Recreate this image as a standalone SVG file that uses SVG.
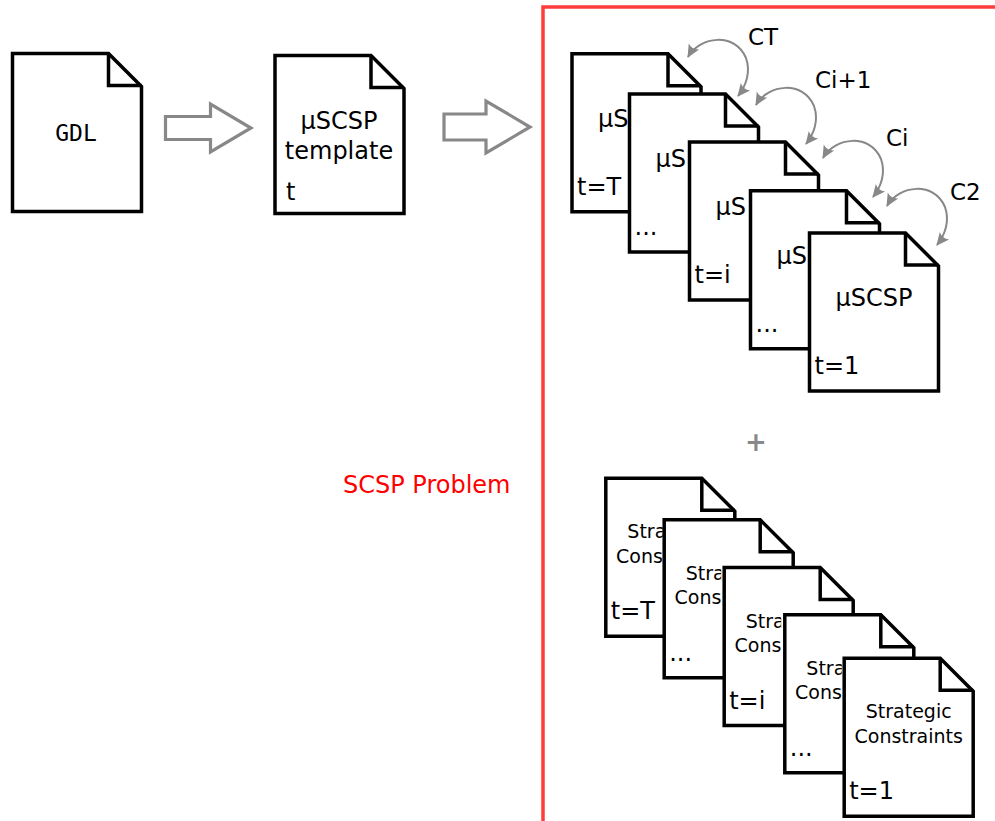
<svg xmlns="http://www.w3.org/2000/svg" xmlns:xlink="http://www.w3.org/1999/xlink" width="995" height="821" viewBox="0 0 995 821">
<style>
.doc{fill:#fff;stroke:#000;stroke-width:3.5;stroke-linejoin:miter}
.fold{fill:none;stroke:#000;stroke-width:3.5}
.t{font-family:"DejaVu Sans","Liberation Sans",sans-serif;font-size:24px;fill:#000}
.mid{text-anchor:middle}
.sc{font-family:"DejaVu Sans","Liberation Sans",sans-serif;font-size:19px;fill:#000;text-anchor:middle}
.mono{font-family:"DejaVu Sans Mono","Liberation Mono",monospace;font-size:23px;fill:#000;text-anchor:middle}
.big{fill:none;stroke:#888;stroke-width:3.2}
.arc{fill:none;stroke:#888;stroke-width:2;marker-start:url(#ah);marker-end:url(#ah)}
.lbl{font-family:"DejaVu Sans","Liberation Sans",sans-serif;font-size:23px;fill:#000}
</style>
<defs>
<g id="page">
<path class="doc" d="M0,0 H96 L129,33 V158 H0 Z"/>
<path class="fold" d="M96,0 V32 H129"/>
</g>
<clipPath id="vis"><rect x="0" y="0" width="57" height="158"/></clipPath>
<marker id="ah" viewBox="-13 -7 15 14" markerWidth="15" markerHeight="14" refX="0" refY="0" orient="auto-start-reverse" markerUnits="userSpaceOnUse">
<path d="M1,0 L-12,-6 Q-8,0 -12,6 Z" fill="#888"/>
</marker>
</defs>
<rect x="543" y="7" width="470" height="840" fill="none" stroke="#ff3c3c" stroke-width="3.5"/>
<text x="343" y="493" class="t" style="fill:#f00">SCSP Problem</text>

<g id="gdl" transform="translate(12.5,53.5)">
<use href="#page"/>
<text x="63.5" y="87" class="mono">GDL</text>
</g>
<g id="template" transform="translate(275,55.5)">
<use href="#page"/>
<text x="64" y="73" class="t mid">μSCSP</text>
<text x="64" y="103" class="t mid">template</text>
<text x="11" y="144" class="t">t</text>
</g>

<g id="mu-T" transform="translate(572,53.8)">
<use href="#page"/>
<g clip-path="url(#vis)"><text x="64.5" y="73" class="t mid">μSCSP</text></g>
<text x="5" y="141" class="t">t=T</text>
</g>
<g id="mu-dots1" transform="translate(629.5,94)">
<use href="#page"/>
<g clip-path="url(#vis)"><text x="64.5" y="73" class="t mid">μSCSP</text></g>
<text x="5" y="141" class="t">...</text>
</g>
<g id="mu-i" transform="translate(689.5,142)">
<use href="#page"/>
<g clip-path="url(#vis)"><text x="64.5" y="73" class="t mid">μSCSP</text></g>
<text x="5" y="141" class="t">t=i</text>
</g>
<g id="mu-dots2" transform="translate(750.5,190.8)">
<use href="#page"/>
<g clip-path="url(#vis)"><text x="64.5" y="73" class="t mid">μSCSP</text></g>
<text x="5" y="141" class="t">...</text>
</g>
<g id="mu-1" transform="translate(809.5,233)">
<use href="#page"/>
<text x="64.5" y="73" class="t mid">μSCSP</text>
<text x="5" y="141" class="t">t=1</text>
</g>

<text x="756" y="451" class="t mid" style="fill:#888;font-weight:bold;font-size:26px">+</text>

<g id="sc-T" transform="translate(605.8,478.2)">
<use href="#page"/>
<g clip-path="url(#vis)">
<text x="64.5" y="60" class="sc">Strategic</text>
<text x="64.5" y="84.5" class="sc">Constraints</text>
</g>
<text x="5" y="141" class="t">t=T</text>
</g>
<g id="sc-dots1" transform="translate(664.2,519.8)">
<use href="#page"/>
<g clip-path="url(#vis)">
<text x="64.5" y="60" class="sc">Strategic</text>
<text x="64.5" y="84.5" class="sc">Constraints</text>
</g>
<text x="5" y="141" class="t">...</text>
</g>
<g id="sc-i" transform="translate(724.2,567.5)">
<use href="#page"/>
<g clip-path="url(#vis)">
<text x="64.5" y="60" class="sc">Strategic</text>
<text x="64.5" y="84.5" class="sc">Constraints</text>
</g>
<text x="5" y="141" class="t">t=i</text>
</g>
<g id="sc-dots2" transform="translate(784.8,614.8)">
<use href="#page"/>
<g clip-path="url(#vis)">
<text x="64.5" y="60" class="sc">Strategic</text>
<text x="64.5" y="84.5" class="sc">Constraints</text>
</g>
<text x="5" y="141" class="t">...</text>
</g>
<g id="sc-1" transform="translate(844.2,658.2)">
<use href="#page"/>
<text x="64.5" y="60" class="sc">Strategic</text>
<text x="64.5" y="84.5" class="sc">Constraints</text>
<text x="5" y="141" class="t">t=1</text>
</g>

<g id="connectors">
<path class="big" d="M165.5,116.5 H210.5 V104 L251,128 L210.5,152 V139.5 H165.5 Z"/>
<path class="big" d="M444,114 H486 V101 L530,127 L486,153 V140 H444 Z"/>
<g id="arc-CT">
<path class="arc" d="M688,57 C700,36 735,32 746,58 C751,72 746,86 738,96"/>
<text x="748" y="45" class="lbl">CT</text>
</g>
<g id="arc-Ci1" transform="translate(68,48)">
<path class="arc" d="M688,57 C700,36 735,32 746,58 C751,72 746,86 738,96"/>
</g>
<text x="815" y="88" class="lbl">Ci+1</text>
<g id="arc-Ci" transform="translate(135,101)">
<path class="arc" d="M688,57 C700,36 735,32 746,58 C751,72 746,86 738,96"/>
</g>
<text x="886" y="146" class="lbl">Ci</text>
<g id="arc-C2" transform="translate(199,149)">
<path class="arc" d="M688,57 C700,36 735,32 746,58 C751,72 746,86 738,96"/>
</g>
<text x="950" y="200" class="lbl">C2</text>
</g>
</svg>
